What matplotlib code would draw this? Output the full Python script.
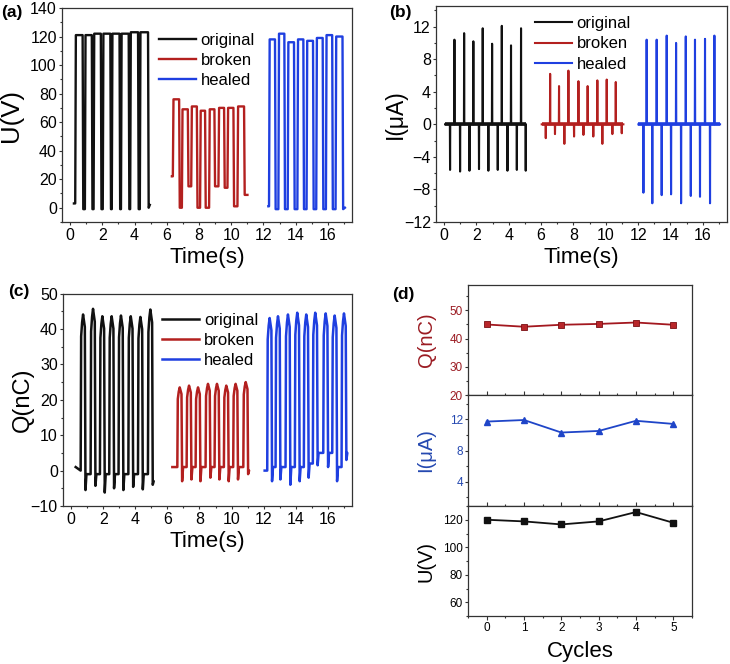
import numpy as np
import matplotlib
matplotlib.use('Agg')
import matplotlib.pyplot as plt
from matplotlib.ticker import MultipleLocator

plt.rcParams['font.family'] = ['Liberation Sans', 'DejaVu Sans']

# ---------------- data: panel (a) U(V) vs time ----------------
U_orig_start = (0.24, 3)
U_orig_rise = [0.32, 0.92, 1.46, 2.03, 2.59, 3.16, 3.73, 4.33]
U_orig_fall = [0.78, 1.35, 1.91, 2.50, 3.07, 3.64, 4.22, 4.84]
U_orig_high = [121, 121, 122, 122, 122, 122, 123, 123]
U_orig_low = [-1, -1, -1, -1, -1, -1, -1, 0]
U_orig_end = (4.95, 2)

U_brok_start = (6.32, 22)
U_brok_rise = [6.38, 6.94, 7.52, 8.07, 8.63, 9.21, 9.77, 10.39]
U_brok_fall = [6.77, 7.31, 7.87, 8.38, 8.96, 9.56, 10.14, 10.80]
U_brok_high = [76, 69, 71, 68, 69, 70, 70, 71]
U_brok_low = [0, 15, 0, 0, 15, 14, 1, 9]
U_brok_end = (11.01, 9)

U_heal_start = (12.31, 1)
U_heal_rise = [12.35, 12.93, 13.51, 14.11, 14.68, 15.28, 15.88, 16.48]
U_heal_fall = [12.72, 13.30, 13.90, 14.48, 15.08, 15.68, 16.27, 16.91]
U_heal_high = [118, 122, 116, 118, 117, 119, 121, 120]
U_heal_low = [-1, -1, -1, -1, -1, -1, -1, -1]
U_heal_end = (17.06, 0)

# ---------------- data: panel (b) I(uA) vs time ----------------
I_orig_span = (0.06, 5.05)
I_orig_pos_t = [0.64, 1.24, 1.81, 2.39, 2.97, 3.57, 4.14, 4.76]
I_orig_pos_v = [10.4, 11.2, 10.2, 11.8, 9.9, 12.1, 9.7, 11.8]
I_orig_neg_t = [0.37, 0.99, 1.57, 2.16, 2.74, 3.32, 3.92, 4.50, 5.05]
I_orig_neg_v = [-5.6, -5.8, -5.7, -5.5, -5.7, -5.6, -5.7, -5.6, -5.7]

I_brok_span = (6.04, 11.09)
I_brok_pos_t = [6.56, 7.11, 7.69, 8.31, 8.88, 9.48, 10.06, 10.62]
I_brok_pos_v = [6.2, 4.7, 6.6, 5.3, 4.7, 5.4, 5.5, 5.2]
I_brok_neg_t = [6.29, 6.86, 7.44, 8.04, 8.62, 9.23, 9.79, 10.41, 10.99]
I_brok_neg_v = [-1.7, -1.2, -2.4, -1.5, -1.3, -1.5, -2.4, -1.2, -1.1]

I_heal_span = (12.02, 17.07)
I_heal_pos_t = [12.53, 13.15, 13.77, 14.35, 14.95, 15.52, 16.14, 16.72]
I_heal_pos_v = [10.4, 10.4, 10.9, 10.0, 10.8, 10.4, 10.5, 10.9]
I_heal_neg_t = [12.33, 12.88, 13.46, 14.04, 14.66, 15.26, 15.83, 16.45]
I_heal_neg_v = [-8.4, -9.7, -8.7, -8.6, -9.7, -8.8, -8.9, -9.7]

# ---------------- data: panel (c) Q(nC) vs time ----------------
Q_orig_start = (0.29, 1)
Q_orig_peak_t = [0.75, 1.37, 1.95, 2.53, 3.11, 3.72, 4.32, 4.94]
Q_orig_high = [44.1, 45.7, 43.6, 43.6, 43.8, 43.6, 43.4, 45.5]
Q_orig_base = [0, -1, -1, -1, -1, -1, -1, -1]
Q_orig_dip = [-5.5, -4.3, -6.2, -5.0, -5.5, -4.6, -5.3, -4.0]
Q_orig_end = (5.14, -3)

Q_brok_start = (6.31, 1)
Q_brok_peak_t = [6.77, 7.35, 7.91, 8.53, 9.09, 9.67, 10.25, 10.88]
Q_brok_high = [23.5, 24.0, 23.5, 24.5, 24.5, 24.0, 24.5, 25.0]
Q_brok_base = [1, 1, 1, 1, 1, 1, 1, 1]
Q_brok_dip = [-3.0, -2.5, -3.0, -2.0, -2.5, -3.0, -2.5, -1.0]
Q_brok_end = (11.08, 0)

Q_heal_start = (12.06, 0)
Q_heal_peak_t = [12.37, 12.89, 13.51, 14.09, 14.65, 15.21, 15.86, 16.42, 17.00]
Q_heal_high = [43.1, 43.6, 44.1, 44.6, 44.1, 44.6, 44.4, 43.8, 44.4]
Q_heal_base = [0, 1, 1, 1, 1, 2, 5, 5, 1]
Q_heal_dip = [-3.0, -2.5, -4.0, -3.0, -2.0, 1.5, 1.0, -3.0, 3.0]
Q_heal_end = (17.16, 5)

# ---------------- data: panel (d) vs cycles ----------------
cycles = [0, 1, 2, 3, 4, 5]
Q_cyc = [45.0, 44.2, 44.9, 45.2, 45.7, 44.9]
I_cyc = [11.7, 11.9, 10.3, 10.5, 11.8, 11.4]
U_cyc = [120.0, 118.8, 116.6, 118.8, 125.6, 117.8]

series_names = ['original', 'broken', 'healed']

# ---------------- styles ----------------
BLACK = '#111111'
RED = '#b3201f'
BLUE = '#1f3fe0'
QCOL = '#a3181f'
ICOL = '#1f45c8'
SPINE = '#333333'
colors = [BLACK, RED, BLUE]


def square_trace(start, rise, fall, high, low, end, edge=0.04):
    t = [start[0]]
    v = [start[1]]
    prev = start[1]
    for r, f, h, lo in zip(rise, fall, high, low):
        t += [r, r + edge, f, f + edge]
        v += [prev, h, h, lo]
        prev = lo
    t.append(end[0])
    v.append(end[1])
    return t, v


def spike_trace(span, pos_t, pos_v, neg_t, neg_v, w=0.012):
    ev = sorted(list(zip(pos_t, pos_v)) + list(zip(neg_t, neg_v)))
    t = [span[0]]
    v = [0]
    for tt, vv in ev:
        t += [tt - w, tt, tt + w]
        v += [0, vv, 0]
    t.append(span[1])
    v.append(0)
    return t, v


def charge_trace(start, peak_t, high, base, dip, end, hw=0.15):
    t = [start[0]]
    v = [start[1]]
    n = len(peak_t)
    for i, (p, h, b, d) in enumerate(zip(peak_t, high, base, dip)):
        r, f = p - hw, p + hw
        nxt = base[i + 1] if i + 1 < n else end[1]
        t += [r, r + 0.03, r + 0.09, p, f - 0.04, f, f + 0.06]
        v += [b, 0.86 * h, 0.95 * h, h, 0.92 * h, d, nxt]
    t.append(end[0])
    v.append(end[1])
    return t, v


def style_time_axis(ax):
    for s in ax.spines.values():
        s.set_color(SPINE)
        s.set_linewidth(0.9)
    ax.set_xlim(-0.5, 17.5)
    ax.xaxis.set_major_locator(MultipleLocator(2))
    ax.xaxis.set_minor_locator(MultipleLocator(1))
    ax.tick_params(axis='both', which='both', direction='out', colors=SPINE,
                   labelcolor='black', labelsize=11.5, width=0.8)
    ax.tick_params(axis='x', which='major', length=2.4, pad=2.2)
    ax.tick_params(axis='x', which='minor', length=1.5)
    ax.tick_params(axis='y', which='major', length=2.5, pad=1.2)
    ax.tick_params(axis='y', which='minor', length=1.5)
    ax.set_xlabel('Time(s)', fontsize=16.2)


fig = plt.figure(figsize=(7.3, 6.64), dpi=100)
W, H = 730.0, 664.0


def rect(l, t, r, b):
    return [l / W, 1 - b / H, (r - l) / W, (b - t) / H]


LEG = dict(loc='upper left', frameon=False, fontsize=12, handlelength=2.2,
           handletextpad=0.3, labelspacing=0.31, borderpad=0, borderaxespad=0)

# ---- panel (a)
axa = fig.add_axes(rect(62, 8, 352, 222))
U_sets = [
    (U_orig_start, U_orig_rise, U_orig_fall, U_orig_high, U_orig_low, U_orig_end),
    (U_brok_start, U_brok_rise, U_brok_fall, U_brok_high, U_brok_low, U_brok_end),
    (U_heal_start, U_heal_rise, U_heal_fall, U_heal_high, U_heal_low, U_heal_end),
]
for name, col, s in zip(series_names, colors, U_sets):
    t, v = square_trace(*s)
    axa.plot(t, v, color=col, lw=1.7, label=name)
axa.set_ylim(-10, 140)
axa.yaxis.set_major_locator(MultipleLocator(20))
axa.yaxis.set_minor_locator(MultipleLocator(10))
style_time_axis(axa)
axa.set_ylabel('U(V)', fontsize=18.5)
axa.yaxis.set_label_coords(-0.135, 0.5)
axa.xaxis.set_label_coords(0.5, -0.118)
axa.legend(bbox_to_anchor=(0.334, 0.884), **LEG)

# ---- panel (b)
axb = fig.add_axes(rect(436, 6.3, 727, 222))
I_sets = [
    (I_orig_span, I_orig_pos_t, I_orig_pos_v, I_orig_neg_t, I_orig_neg_v),
    (I_brok_span, I_brok_pos_t, I_brok_pos_v, I_brok_neg_t, I_brok_neg_v),
    (I_heal_span, I_heal_pos_t, I_heal_pos_v, I_heal_neg_t, I_heal_neg_v),
]
for name, col, s in zip(series_names, colors, I_sets):
    t, v = spike_trace(*s)
    axb.plot(t, v, color=col, lw=1.5, label=name)
    axb.plot(s[0], [0, 0], color=col, lw=2.6, solid_capstyle='butt')
axb.set_ylim(-12, 14.5)
axb.yaxis.set_major_locator(MultipleLocator(4))
axb.yaxis.set_minor_locator(MultipleLocator(2))
style_time_axis(axb)
axb.set_ylabel('I(μA)', fontsize=16.5)
axb.yaxis.set_label_coords(-0.10, 0.5)
axb.xaxis.set_label_coords(0.5, -0.117)
hb = axb.get_lines()[0::2]
axb.legend(hb, series_names, bbox_to_anchor=(0.340, 0.954), **LEG)

# ---- panel (c)
axc = fig.add_axes(rect(63, 293.6, 352, 506))
Q_sets = [
    (Q_orig_start, Q_orig_peak_t, Q_orig_high, Q_orig_base, Q_orig_dip, Q_orig_end),
    (Q_brok_start, Q_brok_peak_t, Q_brok_high, Q_brok_base, Q_brok_dip, Q_brok_end),
    (Q_heal_start, Q_heal_peak_t, Q_heal_high, Q_heal_base, Q_heal_dip, Q_heal_end),
]
for name, col, s in zip(series_names, colors, Q_sets):
    t, v = charge_trace(*s)
    axc.plot(t, v, color=col, lw=1.8, label=name)
axc.set_ylim(-10, 50)
axc.yaxis.set_major_locator(MultipleLocator(10))
axc.yaxis.set_minor_locator(MultipleLocator(5))
style_time_axis(axc)
axc.set_ylabel('Q(nC)', fontsize=17)
axc.yaxis.set_label_coords(-0.10, 0.5)
axc.xaxis.set_label_coords(0.5, -0.118)
axc.legend(bbox_to_anchor=(0.343, 0.911), **LEG)

# ---- panel (d)
axq = fig.add_axes(rect(468, 285, 692, 395))
axi = fig.add_axes(rect(468, 395, 692, 506))
axu = fig.add_axes(rect(468, 506, 692, 616))

axq.plot(cycles, Q_cyc, color=QCOL, lw=1.3, marker='s', ms=4.2,
         mfc='#b8262a', mec='#7a0f14', mew=0.6)
axi.plot(cycles, I_cyc, color=ICOL, lw=1.3, marker='^', ms=5,
         mfc=ICOL, mec=ICOL)
axu.plot(cycles, U_cyc, color=BLACK, lw=1.3, marker='s', ms=4.5,
         mfc=BLACK, mec=BLACK)

axq.set_ylim(20, 59)
axq.yaxis.set_major_locator(MultipleLocator(10))
axq.yaxis.set_minor_locator(MultipleLocator(5))
axi.set_ylim(0.9, 15.1)
axi.set_yticks([4, 8, 12])
axi.yaxis.set_minor_locator(MultipleLocator(2))
axu.set_ylim(50, 130)
axu.set_yticks([60, 80, 100, 120])
axu.yaxis.set_minor_locator(MultipleLocator(10))

for ax, lab, lc in [(axq, 'Q(nC)', '#9b1b22'), (axi, 'I(μA)', '#2448b0'),
                    (axu, 'U(V)', 'black')]:
    for s in ax.spines.values():
        s.set_color(SPINE)
        s.set_linewidth(0.9)
    ax.set_xlim(-0.5, 5.5)
    ax.xaxis.set_major_locator(MultipleLocator(1))
    ax.xaxis.set_minor_locator(MultipleLocator(0.5))
    ax.tick_params(axis='both', which='both', colors=SPINE, labelcolor=lc,
                   labelsize=8.5, width=0.8)
    ax.tick_params(axis='y', which='major', direction='out', length=2.5, pad=1.2)
    ax.tick_params(axis='y', which='minor', direction='out', length=1.5)
    ax.set_ylabel(lab, fontsize=14.5, color=lc)
    ax.yaxis.set_label_coords(-0.145, 0.5)

for ax in (axq, axi):
    ax.tick_params(axis='x', which='major', direction='in', length=3,
                   labelbottom=False)
    ax.tick_params(axis='x', which='minor', direction='in', length=1.5)
axu.tick_params(axis='x', which='major', direction='out', length=3, pad=1.5,
                labelcolor='black')
axu.tick_params(axis='x', which='minor', direction='out', length=1.5)
axu.set_xlabel('Cycles', fontsize=16)
axu.xaxis.set_label_coords(0.5, -0.225)

# ---- panel labels
for txt, x, y in [('(a)', 12, 12), ('(b)', 400, 12), ('(c)', 19, 292), ('(d)', 403, 295)]:
    fig.text(x / W, 1 - y / H, txt, fontsize=12.5, fontweight='bold',
             ha='center', va='center')

fig.savefig('out.png', dpi=100)
